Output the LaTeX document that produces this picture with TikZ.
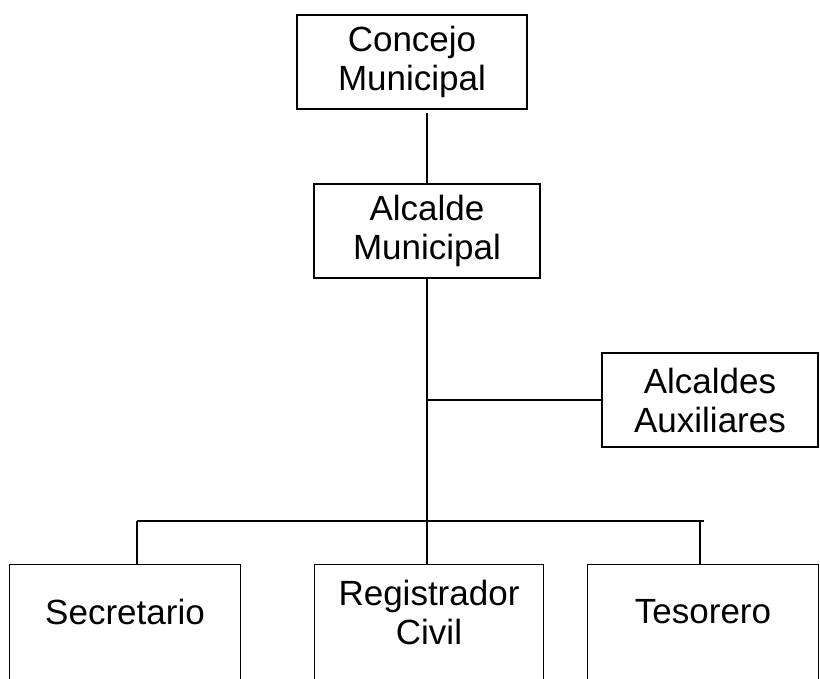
\documentclass[tikz,border=0pt]{standalone}
\usepackage{fontspec}
\setmainfont{Liberation Sans}
\usetikzlibrary{positioning}
\tikzset{
  unit/.style = {draw, align = center, font = \fontsize{17.5}{19.5}\selectfont,
    minimum height = 47pt, inner sep = 2pt},
  openunit/.style = {unit, draw = none},
}
\begin{document}
\begin{tikzpicture}[x = .5pt, y = -.5pt, line width = .6pt]
    \clip (0,0) rectangle (820,679);
    \node [unit, minimum width = 115pt] (conc) at (412,62) {Concejo\\Municipal};
    \node [unit, minimum width = 113pt] (alc) at (427,231) {Alcalde\\Municipal};
    \node [unit, minimum width = 108pt] (aux) at (710,400) {Alcaldes\\Auxiliares};
    \node [openunit, minimum width = 115pt] (sec) at (125,612) {Secretario};
    \node [openunit, minimum width = 114pt] (reg) at (429,612) {Registrador\\Civil};
    \node [openunit, minimum width = 115pt] (tes) at (703,612) {Tesorero};
    % bottom boxes run past the lower edge
    \foreach \n in {sec, reg, tes}
      \draw ([yshift = -20pt]\n.south west) |- (\n.north east) --
        ([yshift = -20pt]\n.south east);
    \coordinate (lbranch) at (137,521);
    \coordinate (rbranch) at (700,521);
    \coordinate (barend) at (704,521);
    \draw (alc.north) -- ([yshift = -1.5pt]alc.north |- conc.south);
    \draw (alc.south) -- (alc.south |- reg.north);
    \draw (alc.south |- aux.west) -- (aux.west);
    \draw (lbranch) -- (barend);
    \draw (lbranch) -- (lbranch |- sec.north);
    \draw (rbranch) -- (rbranch |- tes.north);
  \end{tikzpicture}
\end{document}
